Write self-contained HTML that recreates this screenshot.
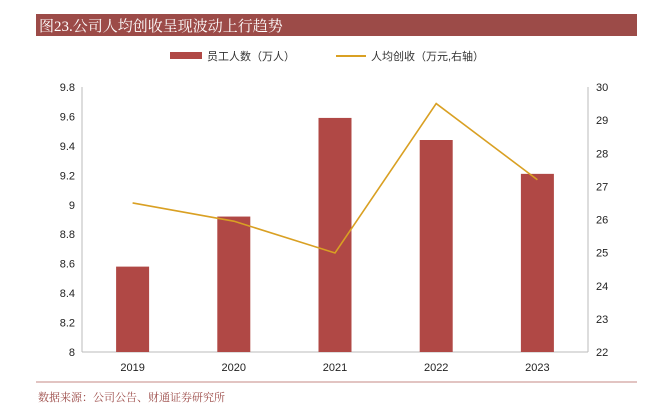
<!DOCTYPE html>
<html><head><meta charset="utf-8"><style>
body{margin:0;background:#fff;width:647px;height:408px;overflow:hidden;font-family:"Liberation Sans","Noto Sans CJK SC",sans-serif}
</style></head><body>
<svg id="c" width="647" height="408" xmlns="http://www.w3.org/2000/svg">
<rect x="36" y="14" width="601" height="22" fill="#9c4b48"/>
<text x="39" y="31" font-size="15" fill="#fff" font-family="Liberation Serif,Noto Serif CJK SC,serif">图23.公司人均创收呈现波动上行趋势</text>
<rect x="170" y="52" width="32" height="7" fill="#b04845"/>
<text x="207" y="60" font-size="11" fill="#333">员工人数（万人）</text>
<line x1="336" y1="56" x2="366" y2="56" stroke="#d9a023" stroke-width="2"/>
<text x="371" y="60" font-size="11" fill="#333">人均创收（万元,右轴）</text>
<g id="g"></g>
<line x1="36" y1="382" x2="637" y2="382" stroke="#d9b0ae" stroke-width="1.5"/>
<text x="38" y="401" font-size="11" fill="#9c4b48" font-family="Liberation Serif,Noto Serif CJK SC,serif">数据来源：公司公告、财通证券研究所</text>
</svg>
<script>
const categories=["2019","2020","2021","2022","2023"];
const employees=[8.58,8.92,9.59,9.44,9.21];
const revenuePer=[26.5,25.95,24.99,29.5,27.2];
const leftTicks=["8","8.2","8.4","8.6","8.8","9","9.2","9.4","9.6","9.8"];
const rightTicks=["22","23","24","25","26","27","28","29","30"];
const NS="http://www.w3.org/2000/svg";
const g=document.getElementById('g');
const X0=82,X1=588,YT=87,YB=352;
const yL=v=>YB-(v-8)/(9.8-8)*(YB-YT);
const yR=v=>YB-(v-22)/(30-22)*(YB-YT);
const band=(X1-X0)/categories.length;
const xC=i=>X0+band*(i+0.5);
function mk(t,a){const e=document.createElementNS(NS,t);for(const k in a)e.setAttribute(k,a[k]);g.appendChild(e);return e;}
let e;
e=mk('line',{x1:X0,y1:YT,x2:X0,y2:YB,stroke:'#bbb'});


e=mk('line',{x1:X1,y1:YT,x2:X1,y2:YB,stroke:'#bbb'});


e=mk('line',{x1:X0,y1:YB,x2:X1,y2:YB,stroke:'#bbb'});


leftTicks.forEach(t=>{e=mk('text',{x:75,y:yL(+t)+4,'font-size':11,'text-anchor':'end',fill:'#222'});e.textContent=t;

});
rightTicks.forEach(t=>{e=mk('text',{x:596,y:yR(+t)+4,'font-size':11,fill:'#222'});e.textContent=t;

});
categories.forEach((c,i)=>{
e=mk('rect',{x:xC(i)-16.5,y:yL(employees[i]),width:33,height:YB-yL(employees[i]),fill:'#b04845'});


e=mk('text',{x:xC(i),y:371,'font-size':11,'text-anchor':'middle',fill:'#222'});e.textContent=c;


});
e=mk('polyline',{points:revenuePer.map((v,i)=>xC(i)+','+yR(v)).join(' '),fill:'none',stroke:'#d9a023','stroke-width':1.6});


</script>
</body></html>
